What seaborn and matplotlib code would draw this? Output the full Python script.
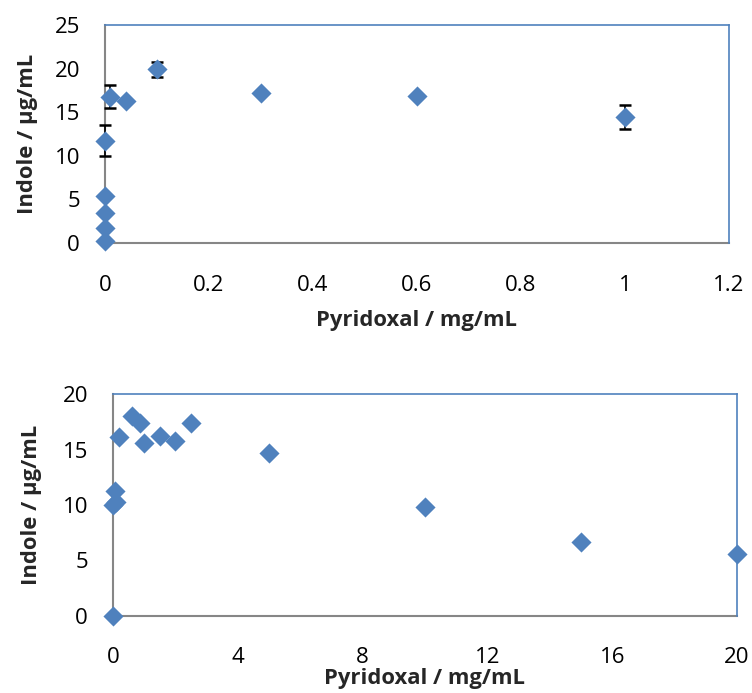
import matplotlib
matplotlib.use("Agg")
import matplotlib.pyplot as plt
import seaborn as sns
import numpy as np
import pandas as pd

# Top chart data
top_x = [0, 0, 0, 0, 0, 0.01, 0.04, 0.1, 0.3, 0.6, 1.0]
top_y = [0.2, 1.7, 3.4, 5.4, 11.75, 16.8, 16.3, 19.9, 17.2, 16.9, 14.45]
top_err = [0, 0, 0, 0, 1.75, 1.3, 0, 0.85, 0, 0, 1.35]

# Bottom chart data
bot_x = [0, 0, 0.1, 0.07, 0.2, 0.6, 0.85, 1.0, 1.5, 2.0, 2.5, 5, 10, 15, 20]
bot_y = [0, 10.0, 10.3, 11.3, 16.1, 18.0, 17.4, 15.6, 16.2, 15.8, 17.4, 14.7, 9.8, 6.7, 5.6]

top_xticks = [0, 0.2, 0.4, 0.6, 0.8, 1, 1.2]
top_xlabels = ["0", "0.2", "0.4", "0.6", "0.8", "1", "1.2"]
top_yticks = [0, 5, 10, 15, 20, 25]
bot_xticks = [0, 4, 8, 12, 16, 20]
bot_yticks = [0, 5, 10, 15, 20]

xlabel = "Pyridoxal / mg/mL"
ylabel = "Indole / µg/mL"

sns.set_theme(style="white")
plt.rcParams['font.family'] = ['Open Sans', 'DejaVu Sans']

W, H = 752, 693
fig = plt.figure(figsize=(W / 100, H / 100), dpi=100)

blue = "#4f81bd"
gray = "#868686"

def axrect(l, t, r, b):
    return [l / W, 1 - b / H, (r - l) / W, (b - t) / H]

ax1 = fig.add_axes(axrect(105, 25, 729, 243))
ax2 = fig.add_axes(axrect(113, 394, 737, 616))

df1 = pd.DataFrame({"x": top_x, "y": top_y, "e": top_err})
df2 = pd.DataFrame({"x": bot_x, "y": bot_y})

errs = df1[df1["e"] > 0]
ax1.errorbar(errs["x"], errs["y"], yerr=errs["e"], fmt="none", ecolor="black",
             elinewidth=1.2, capsize=4.5, capthick=1.8, zorder=2, clip_on=False)
sns.scatterplot(data=df1, x="x", y="y", ax=ax1, marker="D", s=105, color=blue,
                edgecolor=blue, linewidth=0, clip_on=False, zorder=3)

sns.scatterplot(data=df2, x="x", y="y", ax=ax2, marker="D", s=105, color=blue,
                edgecolor=blue, linewidth=0, clip_on=False, zorder=3)

ax1.set_xlim(0, 1.2)
ax1.set_ylim(0, 25)
ax1.set_xticks(top_xticks)
ax1.set_xticklabels(top_xlabels)
ax1.set_yticks(top_yticks)

ax2.set_xlim(0, 20)
ax2.set_ylim(0, 20)
ax2.set_xticks(bot_xticks)
ax2.set_yticks(bot_yticks)

for ax in (ax1, ax2):
    for side in ("left", "bottom"):
        ax.spines[side].set_color(gray)
        ax.spines[side].set_linewidth(1.5)
        ax.spines[side].set_zorder(1)
    for side in ("top", "right"):
        ax.spines[side].set_color(blue)
        ax.spines[side].set_linewidth(1.2)
        ax.spines[side].set_zorder(5)
    for s in ax.spines.values():
        s.set_visible(True)
    ax.tick_params(axis="both", length=0, labelsize=16, colors="black")
    ax.tick_params(axis="y", pad=18)
    ax.set_xlabel(xlabel, fontsize=15.8, fontweight="bold")
    ax.set_ylabel(ylabel, fontsize=15.8, fontweight="bold")
    ax.grid(False)

ax1.tick_params(axis="x", pad=23)
ax2.tick_params(axis="x", pad=22.5)

# label placement (axes fraction)
ax1.xaxis.set_label_coords(0.5, (243 - 310) / 218)
ax2.xaxis.set_label_coords(0.5, (616 - 668) / 222)
ax1.yaxis.set_label_coords((38 - 105) / 624, 0.5)
ax2.yaxis.set_label_coords((42 - 113) / 624, 0.5)

fig.savefig("out.png", dpi=100)
